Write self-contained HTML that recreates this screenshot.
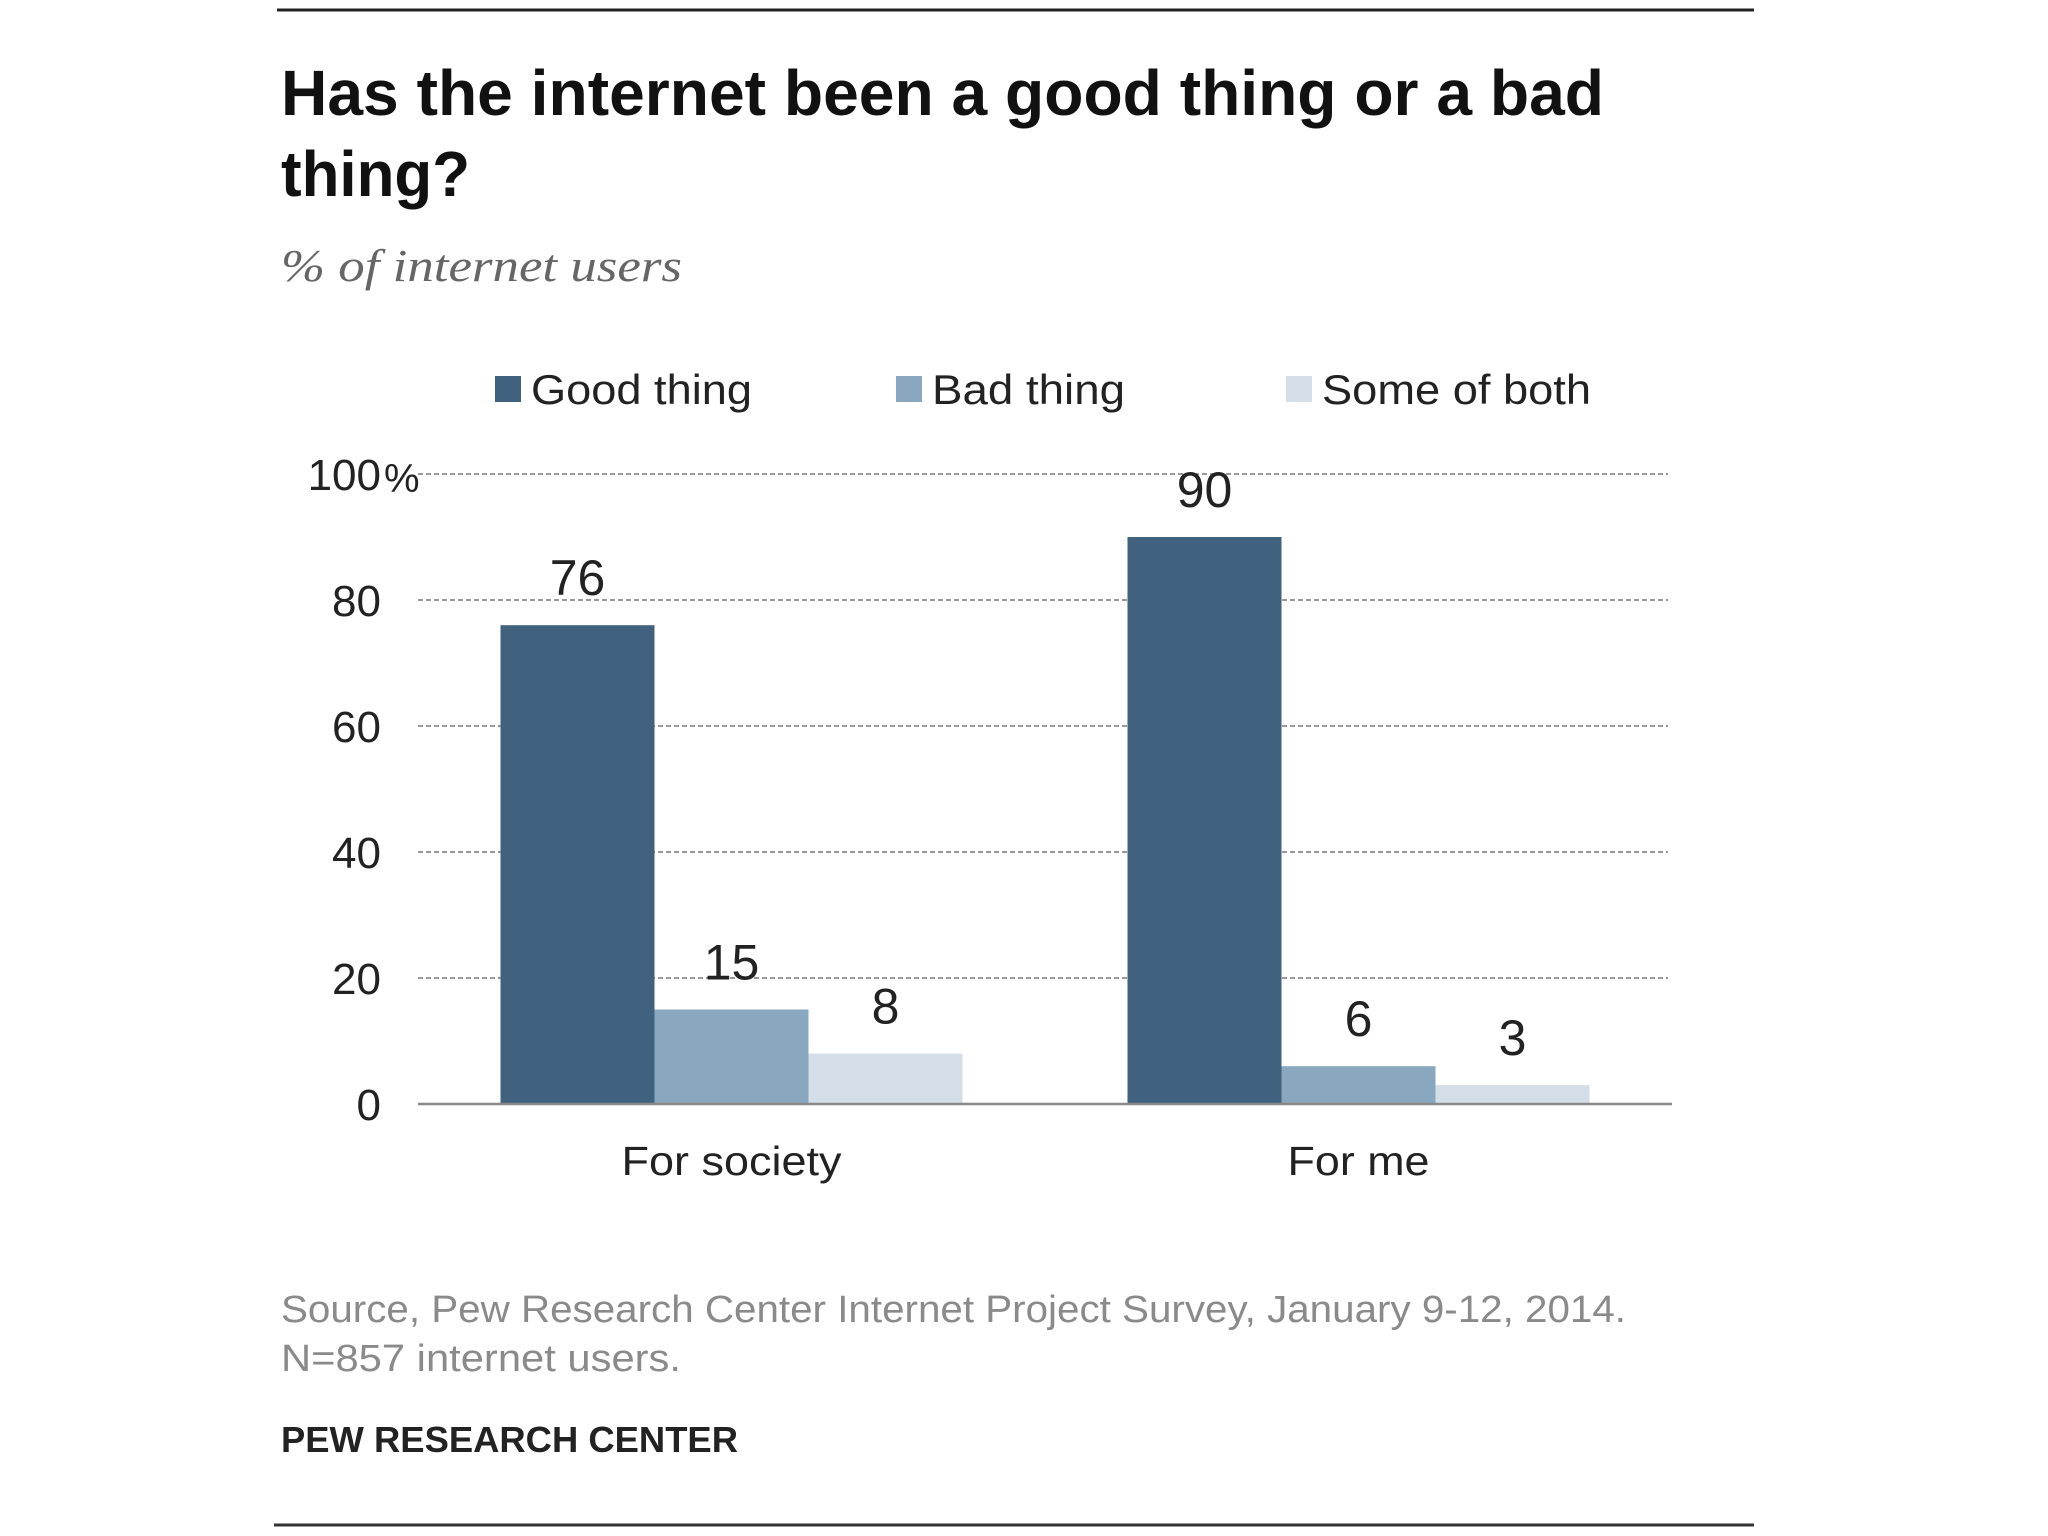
<!DOCTYPE html>
<html><head><meta charset="utf-8"><style>
html,body{margin:0;padding:0;background:#fff;}
svg{display:block;}
</style></head><body>
<svg id="chart" width="2048" height="1536" viewBox="0 0 2048 1536" xmlns="http://www.w3.org/2000/svg" font-family="'Liberation Sans', sans-serif">
<rect width="2048" height="1536" fill="#fff"/>
<line x1="277" y1="10" x2="1754" y2="10" stroke="#222" stroke-width="3"/>
<text x="281" y="115" font-size="64" font-weight="bold" fill="#111" textLength="1323" lengthAdjust="spacingAndGlyphs">Has the internet been a good thing or a bad</text>
<text x="281" y="196" font-size="64" font-weight="bold" fill="#111" textLength="189" lengthAdjust="spacingAndGlyphs">thing?</text>
<text x="281" y="281" font-size="46" font-style="italic" font-family="'Liberation Serif', serif" fill="#666" textLength="401" lengthAdjust="spacingAndGlyphs">% of internet users</text>
<g id="legend"></g>
<g id="grid"></g>
<g id="bars"></g>
<g id="labels"></g>
<text x="281" y="1322" font-size="38" fill="#8a8a8a" textLength="1345" lengthAdjust="spacingAndGlyphs">Source, Pew Research Center Internet Project Survey, January 9-12, 2014.</text>
<text x="281" y="1371" font-size="38" fill="#8a8a8a" textLength="400" lengthAdjust="spacingAndGlyphs">N=857 internet users.</text>
<text x="281" y="1452" font-size="36" font-weight="bold" fill="#222" textLength="457" lengthAdjust="spacingAndGlyphs">PEW RESEARCH CENTER</text>
<line x1="274" y1="1525" x2="1754" y2="1525" stroke="#333" stroke-width="3"/>
</svg>
<script>
const categories = ["For society", "For me"];
const seriesNames = ["Good thing", "Bad thing", "Some of both"];
const goodValues = [76, 90];
const badValues = [15, 6];
const bothValues = [8, 3];
const yTicks = [0, 20, 40, 60, 80, 100];
const yTickLabels = ["0", "20", "40", "60", "80", "100"];

const NS = "http://www.w3.org/2000/svg";
const colors = ["#40627f", "#89a8bf", "#d3dee8"];
const plotL = 418, plotR = 1672, y0 = 1104, y100 = 474;
function y(v){ return y0 - (v/100)*(y0 - y100); }
const bandW = (plotR - plotL) / categories.length;
const barW = 154;
function bandCenter(i){ return plotL + bandW*(i+0.5); }
function mk(tag, attrs, parent){ const e=document.createElementNS(NS,tag); for(const k in attrs) e.setAttribute(k, attrs[k]); parent.appendChild(e); return e; }

const grid = document.getElementById('grid');
yTicks.forEach((t,i)=>{
  if (t>0){
    const l = mk('line',{x1:plotL,x2:plotR-4,y1:y(t),y2:y(t),stroke:'#777','stroke-width':1.6,'stroke-dasharray':'5,3'},grid);
    
    
  }
  const tx = mk('text',{x:381,y:y(t)+16,'font-size':44,fill:'#222','text-anchor':'end'},grid);
  tx.textContent = yTickLabels[i];
  
  
  if (t===100){
    const p = mk('text',{x:384,y:y(t)+18,'font-size':40,fill:'#222'},grid);
    p.textContent='%';
    
    
  }
});

const bars = document.getElementById('bars');
const labels = document.getElementById('labels');
const series = [goodValues, badValues, bothValues];
categories.forEach((c,i)=>{
  const cx = bandCenter(i);
  const start = cx - barW*1.5;
  series.forEach((vals,s)=>{
    const v = vals[i];
    const r = mk('rect',{x:start+s*barW,y:y(v),width:barW,height:y0-y(v),fill:colors[s]},bars);
    
    
    const t = mk('text',{x:start+s*barW+barW/2,y:y(v)-30,'font-size':50,fill:'#222','text-anchor':'middle'},labels);
    t.textContent = v;
    
    
  });
  const ct = mk('text',{x:cx,y:1175,'font-size':41,fill:'#222','text-anchor':'middle',textLength:(i===0?220:142),lengthAdjust:'spacingAndGlyphs'},labels);
  ct.textContent = c;
  
  
});
const base = mk('line',{x1:plotL,x2:plotR,y1:y0,y2:y0,stroke:'#888','stroke-width':2.5},bars);



const legend = document.getElementById('legend');
const legX = [495, 896, 1286];
const legLen = [221, 193, 269];
seriesNames.forEach((n,s)=>{
  const sq = mk('rect',{x:legX[s],y:376,width:26,height:26,fill:colors[s]},legend);
  
  
  const t = mk('text',{x:legX[s]+36,y:404,'font-size':42,fill:'#222',textLength:legLen[s],lengthAdjust:'spacingAndGlyphs'},legend);
  t.textContent = n;
  
  
});
</script>
</body></html>
